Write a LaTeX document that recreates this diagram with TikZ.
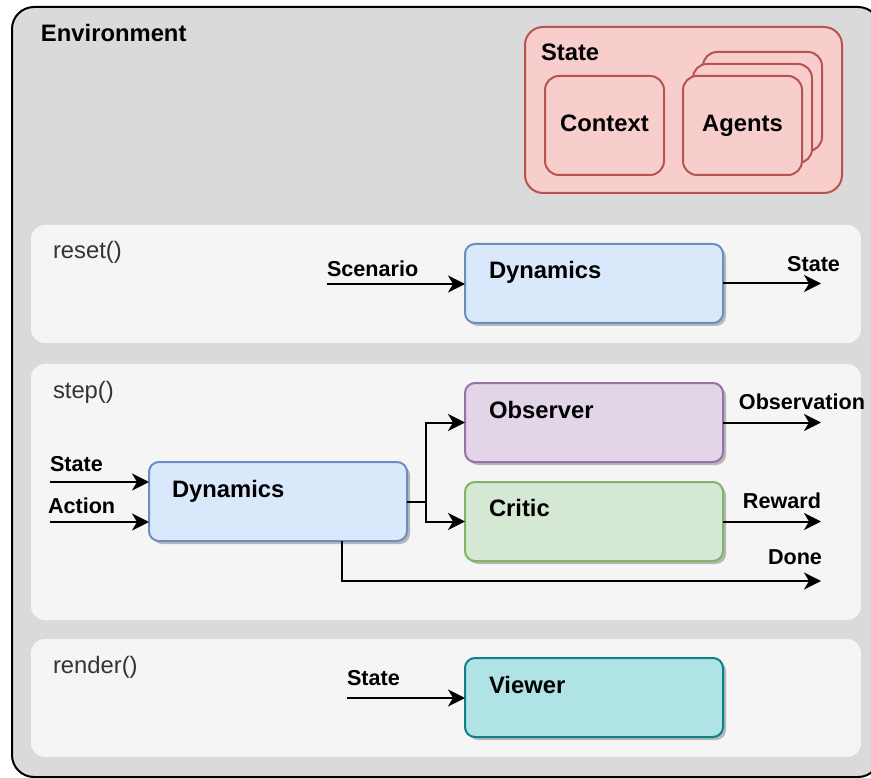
\documentclass[tikz,border=0pt]{standalone}
\usepackage{fontspec}
\setmainfont{Liberation Sans}
\usetikzlibrary{arrows.meta,shadows}
\definecolor{envfill}{HTML}{DADADA}
\definecolor{panelfill}{HTML}{F5F5F5}
\definecolor{panelText}{HTML}{333333}
\definecolor{redfill}{HTML}{F8CECC}
\definecolor{redline}{HTML}{B85450}
\definecolor{bluefill}{HTML}{DAE8FC}
\definecolor{blueline}{HTML}{6C8EBF}
\definecolor{purpfill}{HTML}{E1D5E7}
\definecolor{purpline}{HTML}{9673A6}
\definecolor{greenfill}{HTML}{D5E8D4}
\definecolor{greenline}{HTML}{82B366}
\definecolor{tealfill}{HTML}{B0E3E6}
\definecolor{tealline}{HTML}{0E8088}
\newcommand\biglab{\fontsize{23.8}{28}\selectfont\bfseries}
\newcommand\edgelab{\fontsize{21.6}{26}\selectfont\bfseries}
\newcommand\panellab{\fontsize{23.8}{28}\selectfont\color{panelText}}
\begin{document}
\begin{tikzpicture}[x=1pt,y=-1pt,
  rect/.style={rectangle, inner sep=0pt, outer sep=0pt, anchor=north west},
  envbox/.style={rect, draw=black, fill=envfill, line width=2pt, rounded corners=22pt},
  panel/.style={rect, fill=panelfill, rounded corners=14pt},
  statebox/.style={rect, draw=redline, fill=redfill, line width=2pt, rounded corners=18pt},
  subbox/.style={rect, draw=redline, fill=redfill, line width=2pt, rounded corners=14pt,
    minimum width=119pt, minimum height=99pt},
  fbox/.style={rect, line width=2pt, rounded corners=10pt, minimum width=258pt, minimum height=79pt,
    drop shadow={shadow xshift=3pt, shadow yshift=-3pt, opacity=0.25, fill=black}},
  txt/.style={inner sep=0pt, outer sep=0pt, anchor=base west},
  arr/.style={line width=2pt, -{Stealth[length=17pt, width=17pt, inset=5pt]}},
  ln/.style={line width=2pt}
]
\useasboundingbox (0,0) rectangle (871,778);

% environment
\node[envbox, minimum width=868pt, minimum height=770pt] (env) at (12,7) {};
\node[txt] (envt) at (41,42) {\biglab Environment};

% state box
\node[statebox, minimum width=317pt, minimum height=166pt] (state) at (525,27) {};
\node[txt] (statet) at (541,61) {\biglab State};
\node[subbox] (ctx) at (545,76) {};
\node[txt, anchor=base] (ctxt) at (604.5,132) {\biglab Context};
\node[subbox] (ag3) at (703,52) {};
\node[subbox] (ag2) at (693,64) {};
\node[subbox] (ag1) at (683,76) {};
\node[txt, anchor=base] (agt) at (742.5,132) {\biglab Agents};

% reset panel
\node[panel, minimum width=830pt, minimum height=118pt] (preset) at (31,225) {};
\node[txt] (presett) at (53,259) {\panellab reset()};
\node[fbox, draw=blueline, fill=bluefill] (dyn1) at (465,244) {};
\node[txt] (dyn1t) at ([shift={(24,35)}]dyn1.north west) {\biglab Dynamics};
\coordinate (scenIn) at (327,284);
\coordinate (stOut) at (821,284);
\node[txt] (scent) at (327,277) {\edgelab Scenario};
\node[txt, anchor=base east] (stoutt) at (840,272) {\edgelab State};
\draw[arr] (scenIn) -- (scenIn -| dyn1.west);
\draw[arr] (dyn1.east) -- (dyn1.east -| stOut);

% step panel
\node[panel, minimum width=830pt, minimum height=256pt] (pstep) at (31,364) {};
\node[txt] (pstept) at (53,398) {\panellab step()};
\node[fbox, draw=blueline, fill=bluefill] (dyn2) at (149,462) {};
\node[txt] (dyn2t) at ([shift={(23,35)}]dyn2.north west) {\biglab Dynamics};
\node[fbox, draw=purpline, fill=purpfill] (obs) at (465,383) {};
\node[txt] (obst) at ([shift={(24,35)}]obs.north west) {\biglab Observer};
\node[fbox, draw=greenline, fill=greenfill] (crit) at (465,482) {};
\node[txt] (critt) at ([shift={(24,34)}]crit.north west) {\biglab Critic};
\coordinate (stIn) at (50,482);
\coordinate (acIn) at (50,522);
\coordinate (branch) at (426,502);
\coordinate (obsOut) at (821,422);
\coordinate (rewOut) at (821,522);
\coordinate (doneOut) at (821,581);
\node[txt] (stint) at (50,471) {\edgelab State};
\node[txt] (acint) at (48,513) {\edgelab Action};
\node[txt, anchor=base east] (obsoutt) at (865,409) {\edgelab Observation};
\node[txt, anchor=base east] (rewt) at (821,508) {\edgelab Reward};
\node[txt, anchor=base east] (donet) at (822,564) {\edgelab Done};
\draw[arr] (stIn) -- (stIn -| dyn2.west);
\draw[arr] (acIn) -- (acIn -| dyn2.west);
\draw[ln] (dyn2.east) -- (dyn2.east -| branch);
\draw[arr] (dyn2.east -| branch) |- (obs.west);
\draw[arr] (dyn2.east -| branch) |- (crit.west);
\draw[arr] (obs.east) -- (obs.east -| obsOut);
\draw[arr] (crit.east) -- (crit.east -| rewOut);
\draw[arr] ([xshift=193pt]dyn2.south west) |- (doneOut);

% render panel
\node[panel, minimum width=830pt, minimum height=118pt] (prender) at (31,639) {};
\node[txt] (prendert) at (53,673) {\panellab render()};
\node[fbox, draw=tealline, fill=tealfill] (view) at (465,658) {};
\node[txt] (viewt) at ([shift={(24,35)}]view.north west) {\biglab Viewer};
\coordinate (rIn) at (347,698);
\node[txt] (rint) at (347,685) {\edgelab State};
\draw[arr] (rIn) -- (rIn -| view.west);
\end{tikzpicture}
\end{document}
